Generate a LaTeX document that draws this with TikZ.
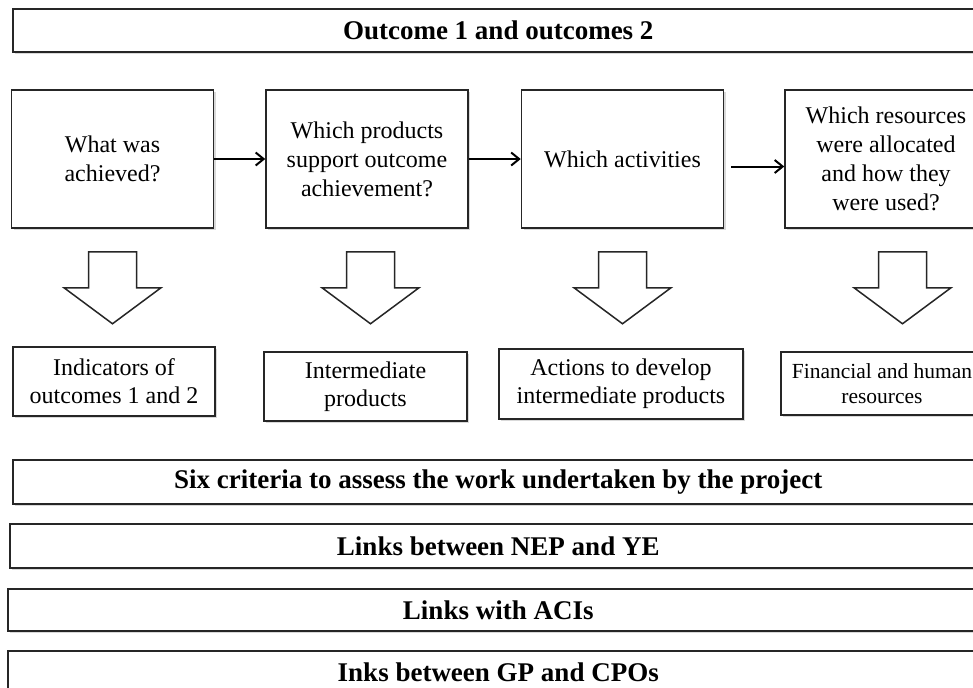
\documentclass[tikz,border=0pt]{standalone}
\usepackage{fontspec}
\setmainfont{Liberation Serif}
\usepackage{tikz}
\usetikzlibrary{arrows.meta,positioning,shadows}

\begin{document}
\begin{tikzpicture}[
  node distance=10pt,
  shade/.style={drop shadow={opacity=0.3, shadow xshift=1pt, shadow yshift=-1.2pt}},
  banner/.style={rectangle, draw=black!85, line width=0.75pt, fill=white, shade,
                 minimum height=21.5pt, anchor=west,
                 font=\fontsize{13.5}{15.5}\selectfont\bfseries},
  qbox/.style={rectangle, draw=black!85, line width=0.75pt, fill=white, shade,
               minimum width=101pt, minimum height=69pt, align=center,
               font=\fontsize{12}{14.5}\selectfont},
  abox/.style={rectangle, draw=black!85, line width=0.75pt, fill=white, shade,
               minimum width=101pt, minimum height=34.5pt, align=center,
               inner sep=1pt, font=\fontsize{12}{14}\selectfont},
  arr/.style={-{Straight Barb[length=4pt,width=6.5pt]}, line width=1pt},
  blockarr/.style={draw=black!85, line width=0.75pt, fill=white, line join=miter},
]
\useasboundingbox (0,0) rectangle (486.5pt,-343.5pt);

% Outcomes
\node[banner, minimum width=485.5pt] (top) at (6pt,-15.25pt) {Outcome 1 and outcomes 2};

% Questions
\node[qbox] (q1) at (56.25pt,-79.5pt) {What was\\achieved?};
\node[qbox, right=25.5pt of q1] (q2) {Which products\\support outcome\\achievement?};
\node[qbox, right=26pt of q2] (q3) {Which activities};
\node[qbox, right=30pt of q3] (q4) {Which resources\\were allocated\\and how they\\were used?};

\draw[arr] (q1.east) -- (q2.west);
\draw[arr] (q2.east) -- (q3.west);
\draw[arr] ([shift={(3.5pt,-3.75pt)}]q3.east) -- ([yshift=-3.75pt]q4.west);

% Block arrows
\draw[blockarr] ([yshift=-11.5pt]q1.south) ++(-12pt,0) -- ++(24pt,0) -- ++(0,-18pt)
  -- ++(12.25pt,0) -- ++(-24.25pt,-18pt) -- ++(-24.25pt,18pt) -- ++(12.25pt,0) -- cycle;
\draw[blockarr] ([shift={(1.75pt,-11.5pt)}]q2.south) ++(-12pt,0) -- ++(24pt,0) -- ++(0,-18pt)
  -- ++(12.25pt,0) -- ++(-24.25pt,-18pt) -- ++(-24.25pt,18pt) -- ++(12.25pt,0) -- cycle;
\draw[blockarr] ([yshift=-11.5pt]q3.south) ++(-12pt,0) -- ++(24pt,0) -- ++(0,-18pt)
  -- ++(12.25pt,0) -- ++(-24.25pt,-18pt) -- ++(-24.25pt,18pt) -- ++(12.25pt,0) -- cycle;
\draw[blockarr] ([shift={(8.25pt,-11.5pt)}]q4.south) ++(-12pt,0) -- ++(24pt,0) -- ++(0,-18pt)
  -- ++(12.25pt,0) -- ++(-24.25pt,-18pt) -- ++(-24.25pt,18pt) -- ++(12.25pt,0) -- cycle;

% Answers
\node[abox] (r1) at (57pt,-190.75pt) {Indicators of\\outcomes 1 and 2};
\node[abox, minimum width=101.5pt] (r2) at (182.75pt,-193.25pt) {Intermediate\\products};
\node[abox, minimum width=122pt, minimum height=35pt] (r3) at (310.5pt,-192pt)
  {Actions to develop\\intermediate products};
\node[abox, minimum height=31.5pt, font=\fontsize{10.75}{12.5}\selectfont] (r4) at (441pt,-191.75pt)
  {Financial and human\\resources};

% Criteria and links
\node[banner, minimum width=485.5pt, minimum height=22pt] (b1) at (6pt,-241pt)
  {Six criteria to assess the work undertaken by the project};
\node[banner, minimum width=488.5pt, minimum height=22pt] (b2) at (4.5pt,-273pt)
  {Links between NEP and YE};
\node[banner, minimum width=490.5pt, minimum height=21pt] (b3) at (3.5pt,-305pt)
  {Links with ACIs};
\node[banner, minimum width=490.5pt] (b4) at (3.5pt,-336.25pt)
  {Inks between GP and CPOs};

\end{tikzpicture}
\end{document}
